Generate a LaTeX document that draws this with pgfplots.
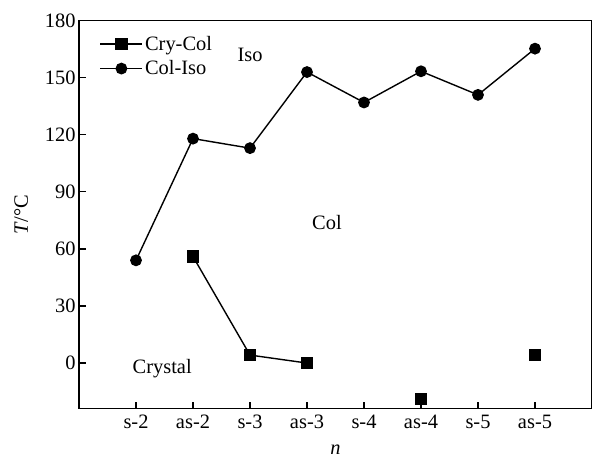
\documentclass[border=0pt]{standalone}
\usepackage{pgfplots}
\pgfplotsset{compat=1.18}
\usepackage{fontspec}
\setmainfont{Liberation Serif}
\newcommand\bigf{\fontsize{20.5}{24}\selectfont}
\begin{document}
\begin{tikzpicture}
\begin{axis}[
  scale only axis, width=513bp, height=388bp,
  xmin=-1, xmax=8, ymin=-24, ymax=180,
  xtick={0,...,7}, xticklabels={s-2,as-2,s-3,as-3,s-4,as-4,s-5,as-5},
  ytick={0,30,...,180},
  tick align=inside, xtick pos=bottom, ytick pos=left,
  major tick length=7bp,
  axis line style={line width=1.2bp},
  every tick/.style={black, line width=1.2bp},
  tick label style={font=\bigf},
  xticklabel style={yshift=-3bp},
  label style={font=\bigf},
  /pgf/number format/assume math mode=true,
  xlabel={\textit{n}}, ylabel={\textit{T}/°C},
  xlabel style={yshift=-9bp},
  ylabel style={yshift=10bp},
  unbounded coords=jump,
  legend style={draw=none, fill=none, at={(0.04,0.966)}, anchor=north west,
    font=\bigf, inner sep=0pt, row sep=5bp},
  legend cell align=left,
  legend image code/.code={\draw[mark repeat=2,mark phase=2,#1] plot coordinates {(0bp,0bp) (21bp,0bp) (42bp,0bp)};},
]
\addplot[black, line width=1.4bp, mark=square*, mark size=5.5bp, mark options={solid}]
  coordinates {(1,56) (2,4.2) (3,0) (4,nan) (5,-19) (6,nan) (7,4.2)};
\addlegendentry{Cry-Col}
\addplot[black, line width=1.4bp, mark=*, mark size=5.2bp]
  coordinates {(0,54) (1,118) (2,113) (3,153) (4,137) (5,153.4) (6,141) (7,165.3)};
\addlegendentry{Col-Iso}
\node[font=\bigf] at (axis cs:2.0,162) {Iso};
\node[font=\bigf] at (axis cs:3.35,74) {Col};
\node[font=\bigf] at (axis cs:0.46,-2.8) {Crystal};
\end{axis}
\pgfresetboundingbox
\path (current axis.south west) ++(-79bp,-51bp) coordinate (bbA);
\path (current axis.north east) ++(0bp,20.7bp) coordinate (bbB);
\useasboundingbox (bbA) rectangle (bbB);
\end{tikzpicture}
\end{document}
